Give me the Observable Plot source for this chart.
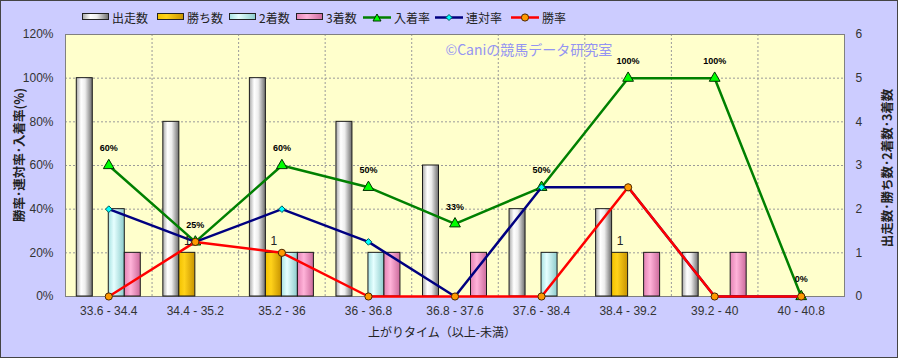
<!DOCTYPE html>
<html><head><meta charset="utf-8">
<script src="https://cdn.jsdelivr.net/npm/d3@7"></script>
<script src="https://cdn.jsdelivr.net/npm/@observablehq/plot@0.6"></script>
<style>
html,body{margin:0;padding:0;background:#fff;}
#chart{position:relative;width:898px;height:358px;background:#CCCCFF;overflow:hidden;font-family:"Noto Sans CJK JP","Noto Sans",sans-serif;}
#chart svg.plotsvg{position:absolute;left:0;top:0;}
.item{position:absolute;top:9px;height:16px;display:flex;align-items:center;font-size:12px;color:#222;white-space:nowrap;}
.item svg{margin-right:3px;display:block;}
#border{position:absolute;left:0;top:0;width:896px;height:356px;border:1px solid #444;pointer-events:none;}
</style></head>
<body><div id="chart"></div>
<script>
const categories = ["33.6 - 34.4","34.4 - 35.2","35.2 - 36","36 - 36.8","36.8 - 37.6","37.6 - 38.4","38.4 - 39.2","39.2 - 40","40 - 40.8"];
const runs    = [5,4,5,4,3,2,2,1,0];
const wins    = [0,1,1,0,0,0,1,0,0];
const seconds = [2,0,1,1,0,1,0,0,0];
const thirds  = [1,0,1,1,1,0,1,1,0];
const winRate    = [0,25,20,0,0,0,50,0,0];
const rentaiRate = [40,25,40,25,0,50,50,0,0];
const placeRate  = [60,25,60,50,33.3,50,100,100,0];
const placeLabels = ["60%","25%","60%","50%","33%","50%","100%","100%","0%"];
const winLabels   = ["","1","1","","","","1","",""];
const leftTicks  = [0,20,40,60,80,100,120];
const rightTicks = [0,1,2,3,4,5,6];
const seriesNames = ["出走数","勝ち数","2着数","3着数","入着率","連対率","勝率"];
const xTitle = "上がりタイム（以上-未満）";
const leftTitle = "勝率･連対率･入着率(%)";
const rightTitle = "出走数･勝ち数･2着数･3着数";
const watermark = "©Caniの競馬データ研究室";

const W=898,H=358,mL=65,mR=54,mT=34,mB=62;
const band=(W-mL-mR)/categories.length;
const barW=16, pad=(band-barW*4)/2;
const idx=d3.range(categories.length);
const X=i=>categories[i];
const barSeries=[{v:runs,g:"gRuns"},{v:wins,g:"gWins"},{v:seconds,g:"gSec"},{v:thirds,g:"gThird"}];

const plot=Plot.plot({
  width:W,height:H,marginLeft:mL,marginRight:mR,marginTop:mT,marginBottom:mB,
  style:{background:"transparent",fontFamily:"'Liberation Sans','Noto Sans CJK JP',sans-serif",fontSize:"12px",color:"#333"},
  x:{type:"band",domain:categories,padding:0,round:false,axis:null},
  y:{domain:[0,6],axis:null},
  marks:[
    Plot.frame({fill:"#FFFFCC"}),
    Plot.ruleY([1,2,3,4,5],{stroke:"#9a9a9a",strokeDasharray:"2,2"}),
    Plot.ruleX(categories.slice(1),{dx:-band/2,stroke:"#9a9a9a",strokeDasharray:"2,2"}),
    Plot.frame({stroke:"#808080"}),
    ...barSeries.map((s,k)=>Plot.barY(idx,{filter:i=>s.v[i]>0,x:X,y:i=>s.v[i],
      insetLeft:pad+barW*k,insetRight:band-pad-barW*(k+1),fill:`url(#${s.g})`,stroke:"#1a1a1a",strokeWidth:1})),
    Plot.line(idx,{x:X,y:i=>placeRate[i]/20,stroke:"#008000",strokeWidth:2.5}),
    Plot.dot(idx,{x:X,y:i=>placeRate[i]/20,symbol:"triangle",r:4,fill:"#00FF00",stroke:"#003300",strokeWidth:1}),
    Plot.line(idx,{x:X,y:i=>rentaiRate[i]/20,stroke:"#000080",strokeWidth:2.5}),
    Plot.dot(idx,{x:X,y:i=>rentaiRate[i]/20,symbol:"diamond2",r:3,fill:"#00FFFF",stroke:"#005555",strokeWidth:1}),
    Plot.line(idx,{x:X,y:i=>winRate[i]/20,stroke:"#FF0000",strokeWidth:2.5}),
    Plot.dot(idx,{x:X,y:i=>winRate[i]/20,r:3.6,fill:"#FF9900",stroke:"#4d2600",strokeWidth:1}),
    Plot.text(idx,{x:X,y:i=>placeRate[i]/20,text:i=>placeLabels[i],dy:-17,fontSize:9,fontWeight:"bold",fill:"#000"}),
    Plot.text(idx,{filter:i=>winLabels[i]!=="",x:X,y:i=>wins[i],text:i=>winLabels[i],dx:pad+barW*1.5-band/2,dy:-12,fontSize:12,fill:"#222"}),
    Plot.axisY(rightTicks,{anchor:"left",tickFormat:d=>`${leftTicks[d]}%`,tickSize:0,tickPadding:12,label:null}),
    Plot.axisY(rightTicks,{anchor:"right",tickFormat:d=>`${d}`,tickSize:0,tickPadding:11,label:null}),
    Plot.axisX({anchor:"bottom",tickSize:0,tickPadding:10,label:null}),
    Plot.text([xTitle],{text:d=>d,frameAnchor:"bottom",dy:40,dx:-13,fontSize:12,fill:"#222",fontFamily:"'Noto Sans CJK JP'"}),
    Plot.text([watermark],{text:d=>d,frameAnchor:"top-left",dx:380,dy:11,textAnchor:"start",fill:"#9494f2",fontSize:14,fontFamily:"'Noto Sans CJK JP'"})
  ]
});
plot.classList.add("plotsvg");

const grads={
  gRuns:[[0,"#a8a8a8"],[0.3,"#ffffff"],[0.55,"#eeeeee"],[1,"#6e6e6e"]],
  gWins:[[0,"#f2c200"],[0.35,"#ffd21a"],[1,"#c89400"]],
  gSec:[[0,"#a8e2e2"],[0.35,"#e6ffff"],[1,"#8ccccc"]],
  gThird:[[0,"#e483b4"],[0.4,"#ffb3d9"],[1,"#cc6a9c"]]
};
const svg=d3.select(plot);
const defs=svg.insert("defs",":first-child");
for(const [id,stops] of Object.entries(grads)){
  const g=defs.append("linearGradient").attr("id",id).attr("x1","0").attr("x2","1").attr("y1","0").attr("y2","0");
  for(const [o,c] of stops) g.append("stop").attr("offset",o).attr("stop-color",c);
}
// rotated axis titles
const midY=mT+(H-mT-mB)/2;
svg.append("text").attr("transform",`translate(24,${midY-10}) rotate(-90)`)
  .attr("text-anchor","middle").attr("font-family","'Noto Sans CJK JP'").attr("font-size",12.5).attr("font-weight","bold").attr("fill","#222").text(leftTitle);
svg.append("text").attr("transform",`translate(892,${midY+3}) rotate(-90)`)
  .attr("text-anchor","middle").attr("font-family","'Noto Sans CJK JP'").attr("font-size",12.5).attr("font-weight","bold").attr("fill","#222").text(rightTitle);

const chart=document.getElementById("chart");
chart.appendChild(plot);

// legend
const legendX=[82,157,229,296,363,435,511];
const barSw=g=>`<svg width="27" height="8"><rect x="0.5" y="0.5" width="26" height="6" fill="url(#${g})" stroke="#222"/></svg>`;
const lineSw=(c,m)=>`<svg width="28" height="11"><line x1="0" x2="28" y1="5.5" y2="5.5" stroke="${c}" stroke-width="2.5"/>${m}</svg>`;
const swatches=[
  barSw("gRuns"),barSw("gWins"),barSw("gSec"),barSw("gThird"),
  lineSw("#008000",`<polygon points="14,2 18,9 10,9" fill="#00FF00" stroke="#003300"/>`),
  lineSw("#000080",`<polygon points="14,2.5 17,5.5 14,8.5 11,5.5" fill="#00FFFF" stroke="#005555"/>`),
  lineSw("#FF0000",`<circle cx="14" cy="5.5" r="3.6" fill="#FF9900" stroke="#4d2600"/>`)
];
seriesNames.forEach((n,i)=>{
  const it=document.createElement("span");it.className="item";it.style.left=legendX[i]+"px";
  it.innerHTML=`${swatches[i]}<span>${n}</span>`;chart.appendChild(it);
});
const border=document.createElement("div");border.id="border";chart.appendChild(border);
</script></body></html>
